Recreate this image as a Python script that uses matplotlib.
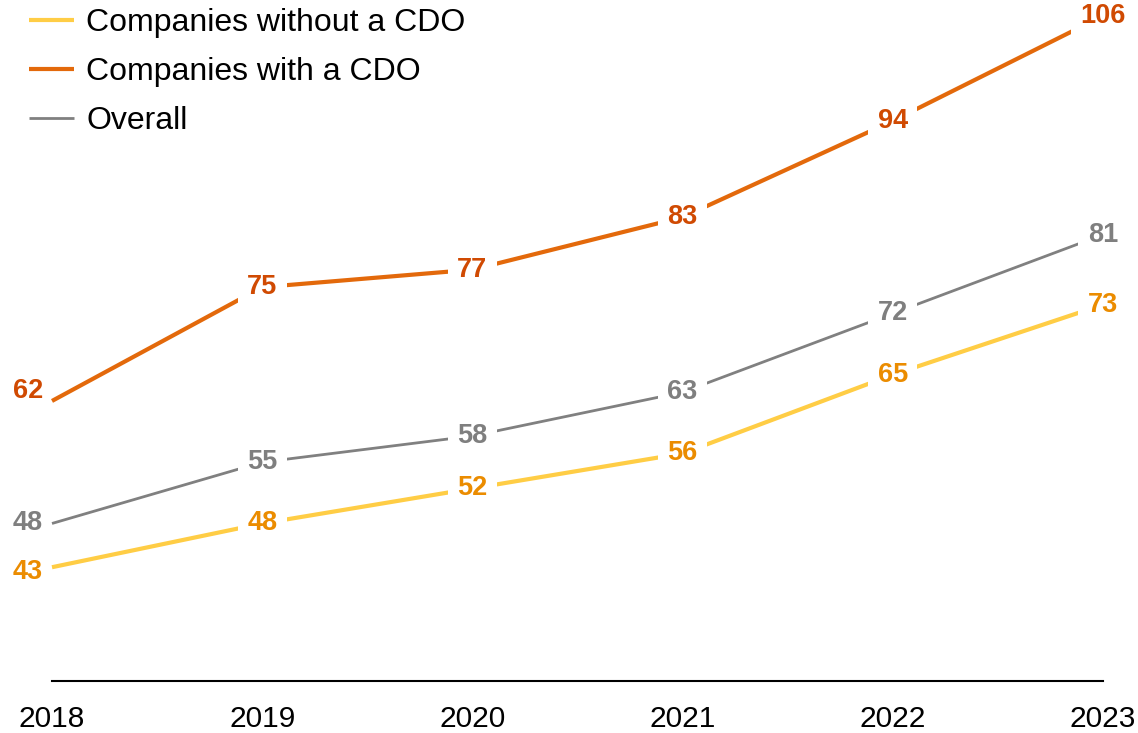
import matplotlib
matplotlib.use('Agg')
import matplotlib.pyplot as plt

years = [2018, 2019, 2020, 2021, 2022, 2023]
without_cdo = [43, 48, 52, 56, 65, 73]
with_cdo = [62, 75, 77, 83, 94, 106]
overall = [48, 55, 58, 63, 72, 81]

plt.rcParams['font.family'] = ['Liberation Sans', 'DejaVu Sans']

fig = plt.figure(figsize=(11.38, 7.33), dpi=100)
ax = fig.add_axes([52/1138, 52/733, 1051/1138, 666/733])

# values, line colour, line width, label colour, legend name, y shift of first label (px)
series = [
    (without_cdo, '#FFCD45', 3.0, '#EB8C00', 'Companies without a CDO', -5),
    (with_cdo, '#E3690B', 3.0, '#D04A02', 'Companies with a CDO', 10),
    (overall, '#808080', 2.0, '#7F7F7F', 'Overall', 0),
]

for vals, col, lw, lcol, name, dy0 in series:
    ax.plot(years, vals, color=col, lw=lw, label=name, clip_on=False,
            solid_capstyle='butt', zorder=2)
    for i, (x, v) in enumerate(zip(years, vals)):
        if i == 0:
            ax.annotate(str(v), (x, v), xytext=(-9, dy0), textcoords='offset pixels',
                        ha='right', va='center', fontsize=19.5, fontweight='bold',
                        color=lcol, zorder=3, annotation_clip=False)
        else:
            ax.annotate(str(v), (x, v), xytext=(0, 0), textcoords='offset pixels',
                        ha='center', va='center', fontsize=19.5, fontweight='bold',
                        color=lcol, zorder=3, annotation_clip=False,
                        bbox=dict(boxstyle='square,pad=0.35', fc='white', ec='none'))

ax.set_xlim(2018, 2023)
ax.set_ylim(30, 106.1)
for s in ['top', 'right', 'left']:
    ax.spines[s].set_visible(False)
ax.spines['bottom'].set_linewidth(1.5)
ax.spines['bottom'].set_color('black')
ax.set_xticks(years)
ax.set_xticklabels([str(y) for y in years])
ax.set_yticks([])
ax.tick_params(axis='x', length=0, pad=17, labelsize=21.5)

ax.legend(loc='upper left', bbox_to_anchor=(21/1138, 1.0), bbox_transform=fig.transFigure,
          frameon=False, fontsize=23, handlelength=1.4, handletextpad=0.4,
          labelspacing=0.6, borderpad=0.25, borderaxespad=0)

fig.savefig('out.png', dpi=100)
